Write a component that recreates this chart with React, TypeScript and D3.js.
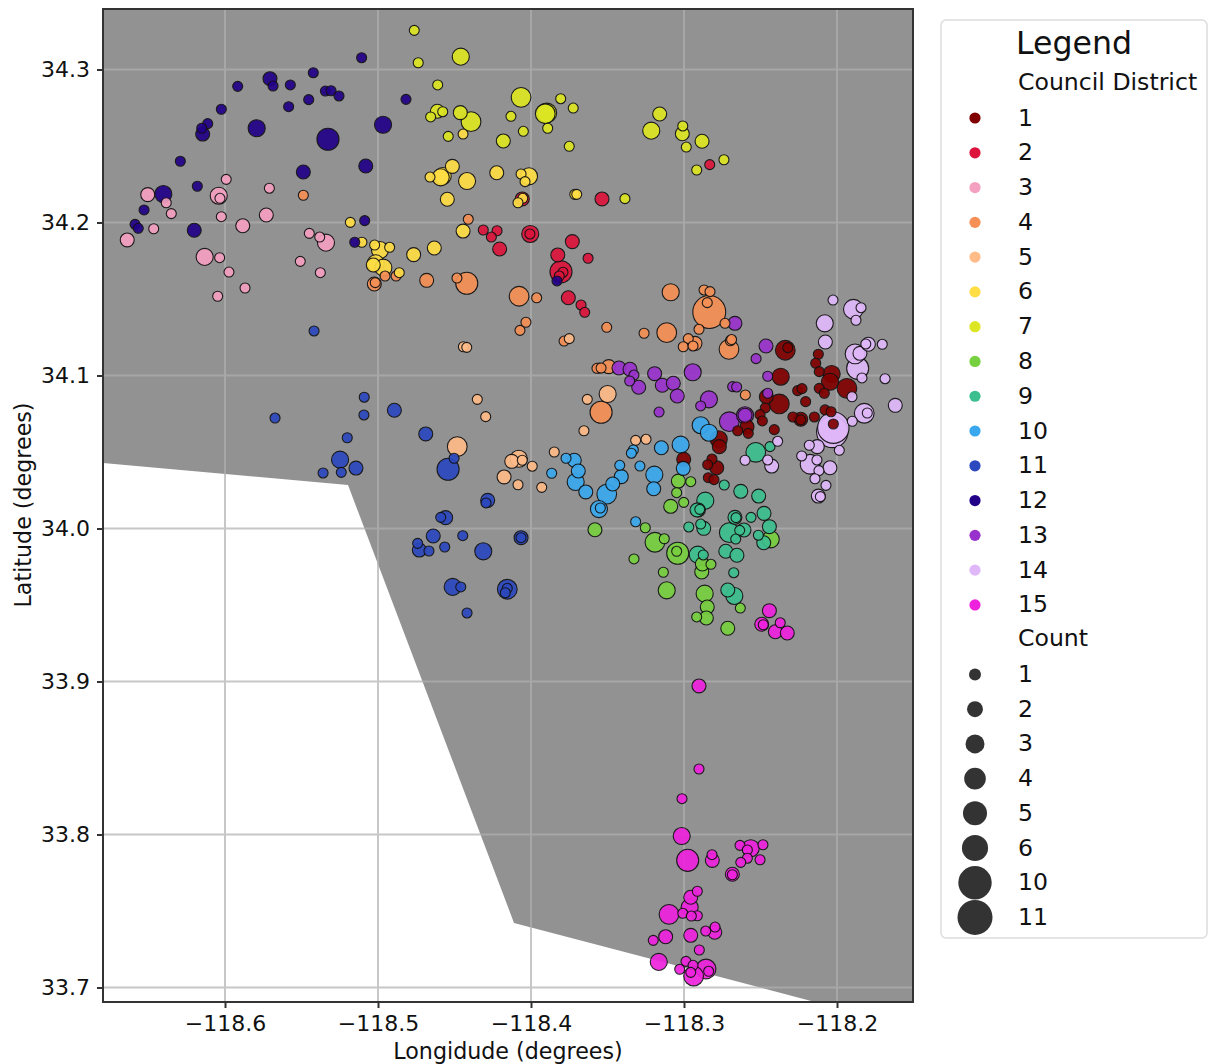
import { useEffect, useRef } from "react";
import * as d3 from "d3";

type Row = [number, number, number]; // lon, lat, count

const WIDTH = 1208;
const HEIGHT = 1064;
const FONT = "'DejaVu Sans', sans-serif";
const PLOT = { left: 103, right: 913, top: 9, bottom: 1002 };

const lonExtent = [-118.67974, -118.15033];
const latExtent = [33.69052, 34.33954];
const lonTicks = [-118.6, -118.5, -118.4, -118.3, -118.2];
const latTicks = [33.7, 33.8, 33.9, 34.0, 34.1, 34.2, 34.3];

// outline of the grey land polygon
const landOutline: [number, number][] = [
  [-118.67974, 34.33954],
  [-118.67974, 34.0428],
  [-118.5196, 34.0284],
  [-118.4111, 33.7422],
  [-118.2144, 33.69052],
  [-118.15033, 33.69052],
  [-118.15033, 34.33954],
];

const districtNames = ["1", "2", "3", "4", "5", "6", "7", "8", "9", "10", "11", "12", "13", "14", "15"];
const districtColors = [
  "#800000", "#dc143c", "#f4a0c0", "#f58f55", "#ffbb88", "#ffdd44", "#dde622", "#77d03f",
  "#3cbf8f", "#3aa8ee", "#2c48be", "#220088", "#9932cc", "#e0b8fa", "#ee22dd",
];
const countLabels = [1, 2, 3, 4, 5, 6, 10, 11];

const district1: Row[] = [
  [-118.2338, 34.1165, 4], [-118.2322, 34.1182, 1], [-118.2122, 34.1139, 1], [-118.2139, 34.108, 1],
  [-118.2116, 34.1025, 1], [-118.2035, 34.101, 3], [-118.2046, 34.0959, 3], [-118.2116, 34.0916, 1],
  [-118.2083, 34.0884, 1], [-118.1935, 34.0916, 4], [-118.2368, 34.0992, 3], [-118.2257, 34.0901, 1],
  [-118.2229, 34.0914, 1], [-118.2205, 34.0829, 1], [-118.2462, 34.0861, 2], [-118.2377, 34.0814, 4],
  [-118.2469, 34.0788, 1], [-118.2503, 34.0744, 1], [-118.2488, 34.0703, 1], [-118.2288, 34.0729, 1],
  [-118.2237, 34.0714, 2], [-118.2237, 34.071, 1], [-118.2148, 34.0729, 1], [-118.2078, 34.0775, 1],
  [-118.2039, 34.0763, 1], [-118.2024, 34.0683, 1], [-118.241, 34.0646, 1], [-118.2588, 34.0665, 2],
  [-118.258, 34.0622, 1], [-118.2649, 34.0639, 1], [-118.2773, 34.0583, 3], [-118.2769, 34.0535, 2],
  [-118.3002, 34.0452, 2], [-118.2817, 34.0454, 1], [-118.2845, 34.0417, 1], [-118.2786, 34.0397, 2],
  [-118.2841, 34.0332, 1], [-118.2804, 34.0319, 1],
];
const district2: Row[] = [
  [-118.2832, 34.2378, 1], [-118.3536, 34.2154, 2], [-118.4057, 34.2154, 2], [-118.4312, 34.1951, 1],
  [-118.4222, 34.1946, 1], [-118.4259, 34.1905, 1], [-118.4205, 34.1827, 2], [-118.4005, 34.1925, 3],
  [-118.4007, 34.1925, 1], [-118.373, 34.1875, 2], [-118.3825, 34.1788, 2], [-118.3627, 34.1766, 1],
  [-118.3804, 34.1678, 5], [-118.3791, 34.1675, 1], [-118.3815, 34.165, 1], [-118.3756, 34.1508, 2],
  [-118.3673, 34.1461, 1], [-118.3649, 34.1413, 1],
];
const district3: Row[] = [
  [-118.5992, 34.2282, 1], [-118.6505, 34.2182, 2], [-118.6384, 34.2129, 1], [-118.6351, 34.2058, 1],
  [-118.6041, 34.2175, 3], [-118.6033, 34.2158, 1], [-118.571, 34.2224, 1], [-118.6024, 34.2038, 1],
  [-118.573, 34.2049, 2], [-118.5884, 34.1979, 2], [-118.6466, 34.1959, 1], [-118.6639, 34.1886, 2],
  [-118.5449, 34.1929, 1], [-118.5381, 34.1905, 1], [-118.534, 34.1868, 3], [-118.6133, 34.1775, 3],
  [-118.6035, 34.177, 1], [-118.5508, 34.1746, 1], [-118.5377, 34.1672, 1], [-118.5974, 34.1676, 1],
  [-118.5869, 34.1572, 1], [-118.6048, 34.1518, 1],
];
const district4: Row[] = [
  [-118.5488, 34.2178, 1], [-118.441, 34.2021, 1], [-118.5024, 34.1598, 2], [-118.5018, 34.1607, 1],
  [-118.4954, 34.165, 1], [-118.4882, 34.165, 1], [-118.4682, 34.1622, 2], [-118.442, 34.1603, 5],
  [-118.4484, 34.1637, 1], [-118.4078, 34.1518, 4], [-118.3963, 34.1508, 1], [-118.3087, 34.1544, 3],
  [-118.4033, 34.1348, 1], [-118.4072, 34.1295, 1], [-118.3505, 34.1315, 1], [-118.3261, 34.1276, 1],
  [-118.3113, 34.128, 4], [-118.2835, 34.1415, 11], [-118.2869, 34.1559, 1], [-118.283, 34.1548, 1],
  [-118.2848, 34.1476, 1], [-118.2732, 34.1341, 1], [-118.2902, 34.1302, 1], [-118.3784, 34.1225, 1],
  [-118.2972, 34.1241, 1], [-118.2928, 34.121, 2], [-118.3005, 34.1188, 1], [-118.2941, 34.1193, 1],
  [-118.2706, 34.1171, 4], [-118.2697, 34.1227, 1], [-118.2689, 34.1235, 1], [-118.3554, 34.1049, 1],
  [-118.3569, 34.1047, 1], [-118.3542, 34.1049, 1], [-118.3492, 34.1058, 2], [-118.3542, 34.076, 5],
  [-118.2599, 34.0873, 1],
];
const district5: Row[] = [
  [-118.4442, 34.1188, 1], [-118.442, 34.1184, 1], [-118.375, 34.1241, 1], [-118.4351, 34.0844, 1],
  [-118.4296, 34.0731, 1], [-118.4482, 34.0535, 4], [-118.408, 34.0456, 3], [-118.4126, 34.0439, 2],
  [-118.4057, 34.0446, 1], [-118.3992, 34.0407, 1], [-118.4176, 34.0337, 2], [-118.4085, 34.0286, 1],
  [-118.393, 34.0269, 1], [-118.3848, 34.05, 1], [-118.3654, 34.0639, 1], [-118.3632, 34.0844, 1],
  [-118.3499, 34.0879, 3], [-118.3316, 34.0576, 1], [-118.3248, 34.0583, 1],
];
const district6: Row[] = [
  [-118.4444, 34.2578, 1], [-118.4514, 34.2367, 2], [-118.466, 34.2297, 1], [-118.4577, 34.2304, 3],
  [-118.459, 34.2295, 3], [-118.4418, 34.2271, 3], [-118.4547, 34.2152, 2], [-118.4224, 34.2325, 2],
  [-118.4065, 34.2317, 1], [-118.4013, 34.2302, 3], [-118.4039, 34.2267, 1], [-118.3714, 34.2184, 1],
  [-118.3701, 34.2184, 1], [-118.4054, 34.2158, 1], [-118.4085, 34.2129, 1], [-118.5181, 34.2001, 1],
  [-118.5105, 34.1871, 1], [-118.5022, 34.1853, 1], [-118.4987, 34.182, 3], [-118.4924, 34.1838, 1],
  [-118.5015, 34.1733, 3], [-118.5031, 34.1722, 2], [-118.4965, 34.1705, 3], [-118.4861, 34.1672, 1],
  [-118.4767, 34.179, 2], [-118.4632, 34.1833, 2], [-118.4444, 34.1944, 2],
];
const district7: Row[] = [
  [-118.4763, 34.3256, 1], [-118.4737, 34.3044, 1], [-118.4459, 34.3084, 3], [-118.461, 34.2899, 1],
  [-118.4612, 34.2727, 2], [-118.4656, 34.269, 1], [-118.4577, 34.2724, 1], [-118.4462, 34.2718, 2],
  [-118.4392, 34.2659, 4], [-118.4541, 34.2563, 1], [-118.4181, 34.2533, 2], [-118.4065, 34.2818, 4],
  [-118.4131, 34.2694, 1], [-118.405, 34.2596, 1], [-118.3897, 34.2716, 4], [-118.3907, 34.2711, 4],
  [-118.3891, 34.2616, 1], [-118.3806, 34.2809, 1], [-118.3724, 34.2748, 1], [-118.375, 34.2498, 1],
  [-118.3159, 34.2709, 2], [-118.3214, 34.26, 3], [-118.3008, 34.2631, 1], [-118.3011, 34.258, 2],
  [-118.2985, 34.2493, 1], [-118.2882, 34.2531, 2], [-118.2917, 34.2343, 1], [-118.2739, 34.241, 1],
  [-118.3386, 34.2156, 1],
];
const district8: Row[] = [
  [-118.3037, 34.031, 2], [-118.2956, 34.0306, 1], [-118.3048, 34.0234, 1], [-118.3002, 34.0171, 1],
  [-118.3087, 34.0145, 2], [-118.3582, 33.9992, 2], [-118.3253, 34.0005, 1], [-118.319, 33.991, 4],
  [-118.3129, 33.9933, 1], [-118.3041, 33.9838, 5], [-118.3048, 33.9851, 1], [-118.3327, 33.9801, 1],
  [-118.3135, 33.9714, 1], [-118.3113, 33.9596, 3], [-118.2884, 33.9716, 2], [-118.288, 33.9768, 2],
  [-118.2824, 33.9766, 1], [-118.2865, 33.9574, 3], [-118.2848, 33.9487, 2], [-118.2917, 33.9422, 1],
  [-118.2854, 33.9415, 2], [-118.2632, 33.948, 1], [-118.2714, 33.9348, 2], [-118.2433, 33.9929, 3],
];
const district9: Row[] = [
  [-118.2531, 34.0498, 4], [-118.2438, 34.0535, 1], [-118.2737, 34.0284, 1], [-118.2629, 34.0243, 2],
  [-118.2512, 34.0212, 2], [-118.2861, 34.0182, 3], [-118.2906, 34.0121, 2], [-118.2897, 34.0125, 1],
  [-118.2915, 34.0121, 2], [-118.2667, 34.0073, 2], [-118.266, 34.0071, 1], [-118.2562, 34.0073, 1],
  [-118.2477, 34.0099, 2], [-118.2442, 34.0012, 2], [-118.2969, 34.001, 1], [-118.2891, 34.0029, 1],
  [-118.2871, 34.0001, 2], [-118.2704, 33.9973, 4], [-118.2608, 33.999, 2], [-118.2636, 33.9988, 1],
  [-118.2662, 33.9931, 1], [-118.2514, 33.9956, 1], [-118.2479, 33.9907, 2], [-118.2727, 33.9851, 2],
  [-118.2654, 33.9825, 2], [-118.291, 33.9829, 3], [-118.2874, 33.9827, 1], [-118.2675, 33.9711, 1],
  [-118.2714, 33.9598, 2], [-118.2671, 33.9559, 3],
];
const district10: Row[] = [
  [-118.2891, 34.0675, 3], [-118.2837, 34.0626, 3], [-118.3022, 34.0548, 3], [-118.3148, 34.0528, 2],
  [-118.3331, 34.0513, 1], [-118.3344, 34.0492, 1], [-118.3005, 34.0393, 2], [-118.3771, 34.0459, 1],
  [-118.3717, 34.0446, 2], [-118.3691, 34.0376, 2], [-118.3708, 34.0304, 3], [-118.3642, 34.0239, 2],
  [-118.342, 34.0413, 1], [-118.341, 34.0339, 2], [-118.3466, 34.0291, 2], [-118.3505, 34.0225, 4],
  [-118.3288, 34.0408, 1], [-118.3194, 34.0352, 3], [-118.3198, 34.026, 2], [-118.3556, 34.0127, 3],
  [-118.3547, 34.0134, 1], [-118.3316, 34.0044, 1], [-118.3865, 34.0361, 1],
];
const district11: Row[] = [
  [-118.5418, 34.1291, 1], [-118.5673, 34.0722, 1], [-118.509, 34.0858, 1], [-118.5092, 34.0742, 1],
  [-118.4893, 34.0773, 2], [-118.4688, 34.0618, 2], [-118.5201, 34.0593, 1], [-118.5248, 34.045, 3],
  [-118.5144, 34.0395, 2], [-118.5359, 34.0363, 1], [-118.524, 34.0367, 1], [-118.4503, 34.0459, 1],
  [-118.4542, 34.0387, 5], [-118.4283, 34.0184, 2], [-118.4294, 34.0167, 1], [-118.4558, 34.0071, 2],
  [-118.459, 34.0073, 1], [-118.4639, 33.9951, 2], [-118.4446, 33.9953, 1], [-118.4741, 33.9903, 1],
  [-118.473, 33.9859, 2], [-118.4667, 33.9853, 1], [-118.4564, 33.9879, 1], [-118.4312, 33.9851, 3],
  [-118.4065, 33.994, 2], [-118.4065, 33.994, 1], [-118.4512, 33.9618, 3], [-118.4459, 33.9618, 1],
  [-118.4155, 33.9603, 4], [-118.4155, 33.9609, 1], [-118.4168, 33.958, 1], [-118.4418, 33.9448, 1],
];
const district12: Row[] = [
  [-118.5107, 34.3077, 1], [-118.5423, 34.2979, 1], [-118.5706, 34.294, 2], [-118.5686, 34.2892, 1],
  [-118.5573, 34.2899, 1], [-118.5917, 34.289, 1], [-118.5453, 34.2803, 1], [-118.5344, 34.2859, 1],
  [-118.5307, 34.2861, 1], [-118.5255, 34.2827, 1], [-118.5584, 34.2757, 1], [-118.6024, 34.274, 1],
  [-118.4817, 34.2805, 1], [-118.4967, 34.2639, 3], [-118.5793, 34.2616, 3], [-118.5327, 34.2544, 5],
  [-118.6113, 34.2646, 1], [-118.6152, 34.2616, 1], [-118.6146, 34.2578, 2], [-118.6292, 34.24, 1],
  [-118.5488, 34.233, 2], [-118.508, 34.2369, 2], [-118.6181, 34.2237, 1], [-118.6403, 34.2186, 3],
  [-118.6529, 34.2082, 1], [-118.6588, 34.1988, 1], [-118.6567, 34.1962, 1], [-118.6201, 34.1949, 2],
  [-118.5087, 34.2012, 1], [-118.5152, 34.1871, 1], [-118.383, 34.1618, 1],
];
const district13: Row[] = [
  [-118.2667, 34.1341, 2], [-118.2464, 34.1193, 2], [-118.2529, 34.111, 1], [-118.2453, 34.0995, 1],
  [-118.3425, 34.1049, 2], [-118.3353, 34.1041, 2], [-118.3327, 34.1003, 1], [-118.3355, 34.0964, 1],
  [-118.3296, 34.0923, 2], [-118.3192, 34.1012, 2], [-118.2943, 34.1021, 3], [-118.3142, 34.0936, 2],
  [-118.307, 34.0949, 2], [-118.3044, 34.0866, 2], [-118.3163, 34.0761, 1], [-118.2837, 34.0844, 3],
  [-118.2891, 34.0801, 1], [-118.2682, 34.0927, 1], [-118.2656, 34.0925, 1], [-118.2453, 34.0884, 1],
  [-118.2704, 34.0698, 4], [-118.2601, 34.074, 3], [-118.2601, 34.074, 2],
];
const district14: Row[] = [
  [-118.2026, 34.1493, 1], [-118.1893, 34.1433, 4], [-118.1843, 34.1443, 1], [-118.1876, 34.1361, 1],
  [-118.208, 34.1341, 3], [-118.2076, 34.1219, 2], [-118.1882, 34.1141, 4], [-118.185, 34.1145, 2],
  [-118.1795, 34.1204, 2], [-118.1812, 34.1206, 1], [-118.1704, 34.1204, 1], [-118.1865, 34.1047, 5],
  [-118.1837, 34.0984, 1], [-118.1686, 34.0979, 1], [-118.1902, 34.0861, 1], [-118.1619, 34.0805, 2],
  [-118.1822, 34.0753, 4], [-118.1802, 34.0755, 1], [-118.19, 34.0701, 1], [-118.2031, 34.0631, 10],
  [-118.2024, 34.0659, 10], [-118.1985, 34.0511, 1], [-118.2181, 34.0544, 1], [-118.2129, 34.0535, 2],
  [-118.2231, 34.0474, 1], [-118.2176, 34.042, 4], [-118.2131, 34.0448, 1], [-118.2046, 34.0397, 2],
  [-118.2118, 34.0378, 1], [-118.2144, 34.0325, 1], [-118.2072, 34.0282, 1], [-118.2122, 34.0212, 2],
  [-118.2109, 34.0208, 1], [-118.2388, 34.057, 1], [-118.2601, 34.0446, 1], [-118.2453, 34.0448, 1],
  [-118.2427, 34.0408, 2],
];
const district15: Row[] = [
  [-118.2442, 33.9463, 2], [-118.2492, 33.9374, 2], [-118.2482, 33.9371, 1], [-118.2371, 33.9384, 1],
  [-118.2403, 33.9325, 2], [-118.2325, 33.9317, 2], [-118.2902, 33.8971, 2], [-118.2902, 33.8428, 1],
  [-118.3013, 33.8234, 1], [-118.3015, 33.799, 3], [-118.2976, 33.7831, 5], [-118.2815, 33.7831, 2],
  [-118.2817, 33.7868, 1], [-118.2634, 33.7929, 1], [-118.2564, 33.791, 3], [-118.2484, 33.7933, 1],
  [-118.2586, 33.7899, 1], [-118.2586, 33.7845, 1], [-118.2629, 33.7818, 1], [-118.2503, 33.7835, 1],
  [-118.2684, 33.774, 2], [-118.2684, 33.7737, 1], [-118.2913, 33.7629, 1], [-118.2956, 33.759, 2],
  [-118.2963, 33.7524, 3], [-118.3098, 33.7478, 4], [-118.3008, 33.7485, 1], [-118.2913, 33.7469, 1],
  [-118.2952, 33.7467, 1], [-118.2797, 33.7395, 1], [-118.2858, 33.7369, 1], [-118.2799, 33.7361, 2],
  [-118.312, 33.7332, 2], [-118.3201, 33.7308, 1], [-118.2956, 33.7341, 2], [-118.29, 33.7245, 1],
  [-118.3165, 33.7167, 3], [-118.3028, 33.7119, 1], [-118.2987, 33.7171, 1], [-118.2941, 33.7145, 1],
  [-118.2856, 33.7121, 4], [-118.2839, 33.7106, 1], [-118.2937, 33.7075, 4], [-118.2956, 33.7099, 1],
];

const districts = [
  district1, district2, district3, district4, district5, district6, district7, district8,
  district9, district10, district11, district12, district13, district14, district15,
];

const x = d3.scaleLinear().domain(lonExtent).range([PLOT.left, PLOT.right]);
const y = d3.scaleLinear().domain(latExtent).range([PLOT.bottom, PLOT.top]);
// marker area grows linearly with count; the legend handles run a little bigger
const mapArea = d3.scaleLinear().domain([1, 11]).range([121, 1150]);
const legendArea = d3.scaleLinear().domain([1, 11]).range([144, 1225]);

const landPath = d3.line<[number, number]>()
  .x((d) => x(d[0]))
  .y((d) => y(d[1]));

// biggest first so the small sites stay visible on top
const sites = districts
  .flatMap((rows, i) => rows.map(([lon, lat, count]) => ({ lon, lat, count, district: i })))
  .sort((a, b) => d3.descending(a.count, b.count));

export default function App() {
  const gridRef = useRef<SVGGElement>(null);
  const axesRef = useRef<SVGGElement>(null);

  // Grid and axes are rendered with d3, not react
  useEffect(() => {
    const grid = d3.select(gridRef.current);
    grid.selectAll("*").remove();
    grid.selectAll("line.v").data(lonTicks).join("line")
      .attr("x1", (d) => x(d)).attr("x2", (d) => x(d))
      .attr("y1", PLOT.top).attr("y2", PLOT.bottom);
    grid.selectAll("line.h").data(latTicks).join("line")
      .attr("x1", PLOT.left).attr("x2", PLOT.right)
      .attr("y1", (d) => y(d)).attr("y2", (d) => y(d));

    const axes = d3.select(axesRef.current);
    axes.selectAll("*").remove();
    const xAxis = d3.axisBottom(x).tickValues(lonTicks).tickFormat(d3.format(".1f") as any)
      .tickSize(6).tickPadding(7).tickSizeOuter(0);
    const yAxis = d3.axisLeft(y).tickValues(latTicks).tickFormat(d3.format(".1f") as any)
      .tickSize(6).tickPadding(7).tickSizeOuter(0);
    axes.append("g").attr("transform", `translate(0,${PLOT.bottom})`).call(xAxis);
    axes.append("g").attr("transform", `translate(${PLOT.left},0)`).call(yAxis);
    axes.selectAll(".domain").remove();
    axes.selectAll("line").attr("stroke", "#333").attr("stroke-width", 2);
    axes.selectAll("text").attr("fill", "#111").attr("font-size", 22).attr("font-family", FONT);
  }, []);

  return (
    <svg
      width={WIDTH}
      height={HEIGHT}
      style={{ position: "absolute", left: 0, top: 0, background: "#fff" }}
      fontFamily={FONT}
    >
      <path d={landPath(landOutline) + "Z"} fill="#929292" />
      <g ref={gridRef} stroke="#b0b0b0" strokeWidth={2} opacity={0.7} />
      {sites.map((d, i) => (
        <circle
          key={i}
          cx={x(d.lon)}
          cy={y(d.lat)}
          r={Math.sqrt(mapArea(d.count)) / 2 - 0.5}
          fill={districtColors[d.district]}
          stroke="#111"
          strokeWidth={1.1}
          opacity={0.92}
        />
      ))}
      <rect
        x={PLOT.left}
        y={PLOT.top}
        width={PLOT.right - PLOT.left}
        height={PLOT.bottom - PLOT.top}
        fill="none"
        stroke="#333"
        strokeWidth={2}
      />
      <g ref={axesRef} />
      <text x={508} y={1059} fontSize={22.2} textAnchor="middle" fill="#111">Longidude (degrees)</text>
      <text transform="translate(31,505) rotate(-90)" fontSize={22.2} textAnchor="middle" fill="#111">
        Latitude (degrees)
      </text>

      <rect x={941} y={20} width={266} height={918} rx={5} fill="#fff" stroke="#ddd" strokeWidth={1.5} />
      <text x={1016} y={54} fontSize={31.6} fill="#111">Legend</text>
      <text x={1018} y={90} fontSize={23.6} fill="#111">Council District</text>
      {districtNames.map((name, i) => {
        const cy = 118 + i * 34.78;
        return (
          <g key={name}>
            <circle cx={975} cy={cy} r={5.6} fill={districtColors[i]} />
            <text x={1018} y={cy + 7.5} fontSize={23.6} fill="#111">{name}</text>
          </g>
        );
      })}
      <text x={1018} y={646} fontSize={23.6} fill="#111">Count</text>
      {countLabels.map((count, i) => {
        const cy = 674.5 + i * 34.7;
        return (
          <g key={count}>
            <circle cx={975} cy={cy} r={Math.sqrt(legendArea(count)) / 2} fill="#333" />
            <text x={1018} y={cy + 7.5} fontSize={23.6} fill="#111">{count}</text>
          </g>
        );
      })}
    </svg>
  );
}
